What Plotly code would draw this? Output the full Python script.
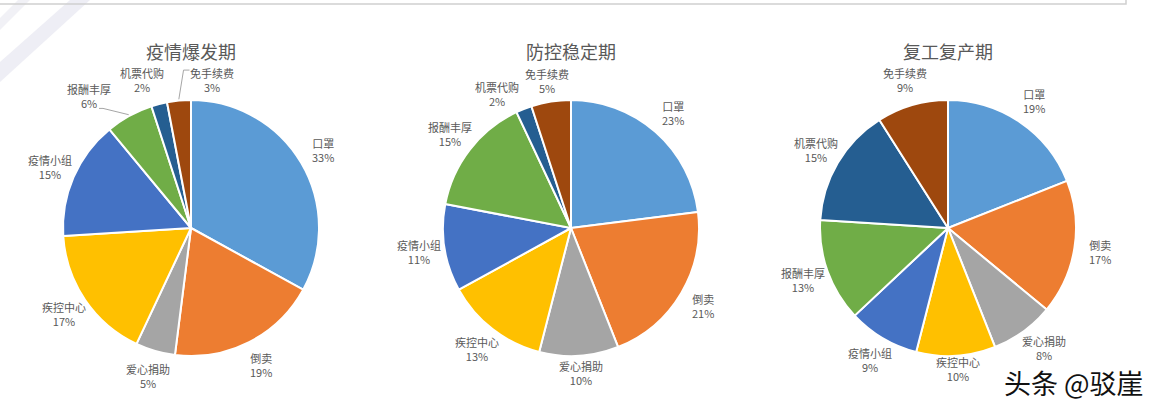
import math
import plotly.graph_objects as go

# data (percent of mentions)
categories = ['口罩', '倒卖', '爱心捐助', '疾控中心', '疫情小组', '报酬丰厚', '机票代购', '免手续费']
titles = ['疫情爆发期', '防控稳定期', '复工复产期']
outbreak = [33, 19, 5, 17, 15, 6, 2, 3]
stable = [23, 21, 10, 13, 11, 15, 2, 5]
reopening = [19, 17, 8, 10, 9, 13, 15, 9]
colors = ['#5B9BD5', '#ED7D31', '#A5A5A5', '#FFC000', '#4472C4', '#70AD47', '#255E91', '#9E480E']

W, H = 1163, 408
R = 128
centers = [(191, 228), (571, 228), (948, 228)]

# hand nudges for the crowded little slices at the top (pixels, screen y down)
nudges = {(0, '报酬丰厚'): (-28, 3), (0, '机票代购'): (-11, 1), (0, '免手续费'): (35, 5),
          (1, '机票代购'): (-17, 9), (1, '免手续费'): (0, 5), (1, '爱心捐助'): (0, -8),
          (2, '疾控中心'): (0, -12), (2, '爱心捐助'): (6, -4)}
leaders = [(0, '报酬丰厚'), (0, '免手续费')]

GREY = '#595959'
FONT = 'Noto Sans CJK SC'


def px(x, y):
    '''screen pixels -> paper coords'''
    return x / W, (H - y) / H


fig = go.Figure()
annotations = []
shapes = []

for i, vals in enumerate([outbreak, stable, reopening]):
    cx, cy = centers[i]
    fig.add_trace(go.Pie(
        labels=categories, values=vals, sort=False, direction='clockwise', rotation=0,
        marker=dict(colors=colors, line=dict(color='white', width=2)),
        textinfo='none', hoverinfo='label+percent', showlegend=False,
        domain=dict(x=[(cx - R) / W, (cx + R) / W], y=[(H - cy - R) / H, (H - cy + R) / H]),
    ))
    tx, ty = px(cx, 51)
    annotations.append(dict(x=tx, y=ty, xref='paper', yref='paper', xanchor='center', yanchor='middle',
                            text=titles[i], showarrow=False,
                            font=dict(family=FONT, size=18, color=GREY)))
    total = sum(vals)
    cum = 0
    for cat, v in zip(categories, vals):
        mid = (cum + v / 2) / total * 2 * math.pi
        cum += v
        sx, cyy = math.sin(mid), math.cos(mid)
        lx = cx + 1.2 * R * sx
        ly = cy - 1.2 * R * cyy
        dx, dy = nudges.get((i, cat), (0, 0))
        lx, ly = lx + dx, ly + dy
        ax, ay = px(lx, ly)
        annotations.append(dict(x=ax, y=ay, xref='paper', yref='paper', xanchor='center', yanchor='middle',
                                text=f'{cat}<br>{v}%', showarrow=False,
                                font=dict(family=FONT, size=11, color=GREY)))
        if (i, cat) in leaders:
            ex, ey = cx + 1.01 * R * sx, cy - 1.01 * R * cyy
            if lx > ex:
                pts = [(ex, ey), (lx - 28, ly - 10), (lx - 22, ly - 10)]
            else:
                pts = [(ex, ey), (lx + 14, ly + 12), (lx + 10, ly + 12)]
            path = 'M ' + ' L '.join('{},{}'.format(*px(a, b)) for a, b in pts)
            shapes.append(dict(type='path', xref='paper', yref='paper', path=path,
                               line=dict(color='#A6A6A6', width=1)))

# frame remnant at the top of the screenshot
frame = [(0, 4), (1126, 4), (1126, 0)]
shapes.append(dict(type='path', xref='paper', yref='paper',
                   path='M ' + ' L '.join('{},{}'.format(*px(a, b)) for a, b in frame),
                   line=dict(color='#D0D0D0', width=1.5)))
# faint diagonal watermark streaks top-left
for poly, col in [([(0, 62), (70, 0), (90, 0), (0, 82)], '#EEEEF5'),
                  ([(0, 18), (18, 0), (30, 0), (0, 30)], '#F1F1F6')]:
    shapes.append(dict(type='path', xref='paper', yref='paper', layer='below',
                       path='M ' + ' L '.join('{},{}'.format(*px(a, b)) for a, b in poly) + ' Z',
                       fillcolor=col, line=dict(width=0)))

wx, wy = px(1074, 382)
annotations.append(dict(x=wx, y=wy, xref='paper', yref='paper', xanchor='center', yanchor='middle',
                        text='头条 @驳崖', showarrow=False, borderpad=0,
                        font=dict(family=FONT, size=27, color='#111111')))

fig.update_layout(width=W, height=H, margin=dict(l=0, r=0, t=0, b=0),
                  paper_bgcolor='white', plot_bgcolor='white',
                  annotations=annotations, shapes=shapes)
fig.write_html('out.html', config={'displayModeBar': False},
               post_script="document.body.style.margin='0';")
